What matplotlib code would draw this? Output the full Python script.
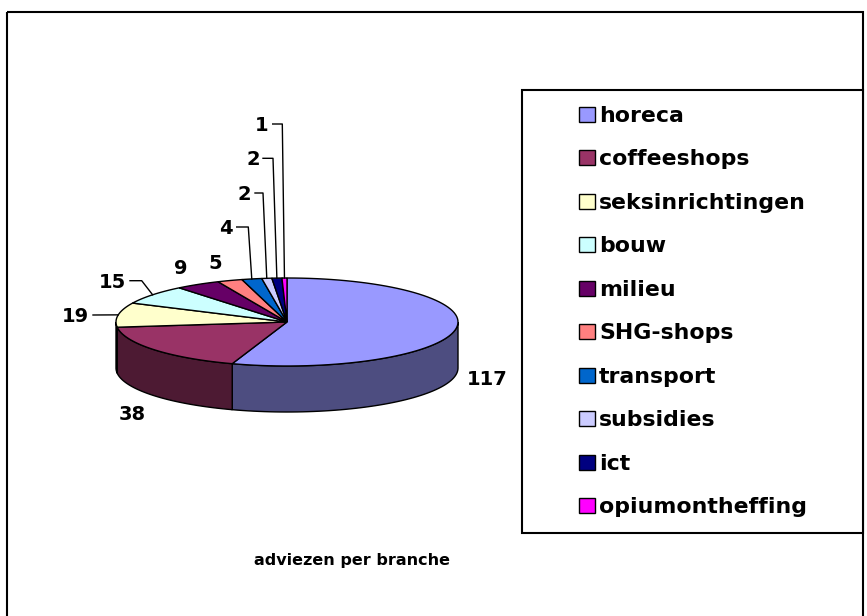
import numpy as np
import matplotlib
matplotlib.use("Agg")
import matplotlib.pyplot as plt
from matplotlib.patches import Polygon, Rectangle
from matplotlib import colors as mcolors

# data
branches = ['horeca', 'coffeeshops', 'seksinrichtingen', 'bouw', 'milieu',
            'SHG-shops', 'transport', 'subsidies', 'ict', 'opiumontheffing']
adviezen = [117, 38, 19, 15, 9, 5, 4, 2, 2, 1]
kleuren = ['#9999FF', '#993366', '#FFFFCC', '#CCFFFF', '#660066',
           '#FF8080', '#0066CC', '#CCCCFF', '#000080', '#FF00FF']
titel = 'adviezen per branche'

# layout (pixels)
cx, cy, rx, ry, depth = 287, 322, 171, 44, 46
label_xy = [(487, 378), (132, 413), (75.5, 315), (112.5, 280.7), (180.7, 266.7),
            (215.7, 262.3), (226, 227), (244, 193), (253.3, 158.3), (261.7, 124)]
# leader: (start x, elbow x) or None
leaders = [None, None, (93, None), (130, 141.7), None, None,
           (236.7, 248.3), (255, 263), (263, 273), (272.7, 282.3)]

fig = plt.figure(figsize=(8.67, 6.16), dpi=100)
ax = fig.add_axes([0, 0, 1, 1])
ax.set_xlim(0, 867)
ax.set_ylim(616, 0)
ax.axis('off')

# outer frame
ax.add_patch(Rectangle((7, 12), 856, 620, fill=False, ec='black', lw=1.5, zorder=1))


def rim(t, dy=0.0):
    t = np.radians(t)
    return np.column_stack([cx + rx * np.cos(t), cy - ry * np.sin(t) + dy])


vals = np.array(adviezen, dtype=float)
bounds = 90 - np.concatenate([[0], np.cumsum(vals)]) * 360.0 / vals.sum()

# side walls (front half only)
for i, c in enumerate(kleuren):
    hi = min(bounds[i], 0)
    lo = max(bounds[i + 1], -180)
    if hi <= lo:
        continue
    t = np.linspace(hi, lo, 60)
    pts = np.vstack([rim(t), rim(t[::-1], depth)])
    dark = tuple(np.array(mcolors.to_rgb(c)) * 0.5)
    ax.add_patch(Polygon(pts, closed=True, fc=dark, ec='black', lw=1, zorder=2))

# top faces
for i, c in enumerate(kleuren):
    t = np.linspace(bounds[i], bounds[i + 1], 80)
    pts = np.vstack([[cx, cy], rim(t)])
    ax.add_patch(Polygon(pts, closed=True, fc=c, ec='black', lw=1, zorder=3))

# value labels
for i, v in enumerate(adviezen):
    lx, ly = label_xy[i]
    ax.text(lx, ly + 7, str(v), ha='center', va='baseline', fontsize=14,
            fontweight='bold', family='DejaVu Sans', zorder=5)
    if leaders[i] is not None:
        mid = (bounds[i] + bounds[i + 1]) / 2
        axp, ayp = rim(np.array([mid]))[0]
        sx, ex = leaders[i]
        xs = [sx] + ([ex] if ex is not None else []) + [axp]
        ys = [ly] + ([ly] if ex is not None else []) + [ayp]
        ax.plot(xs, ys, color='black', lw=1, zorder=4)

# legend box
ax.add_patch(Rectangle((522, 90), 341, 443, fill=True, fc='white', ec='black', lw=1.5, zorder=1))
for i, (n, c) in enumerate(zip(branches, kleuren)):
    base = 121.7 + 43.5 * i
    ax.add_patch(Rectangle((579, base - 15), 16, 15, fc=c, ec='black', lw=1, zorder=3))
    ax.text(599, base, n, ha='left', va='baseline', fontsize=15.8,
            fontweight='bold', family='DejaVu Sans', zorder=3)

ax.text(352, 565, titel, ha='center', va='baseline', fontsize=11.5,
        fontweight='bold', family='DejaVu Sans')

fig.savefig('out.png', dpi=100)
